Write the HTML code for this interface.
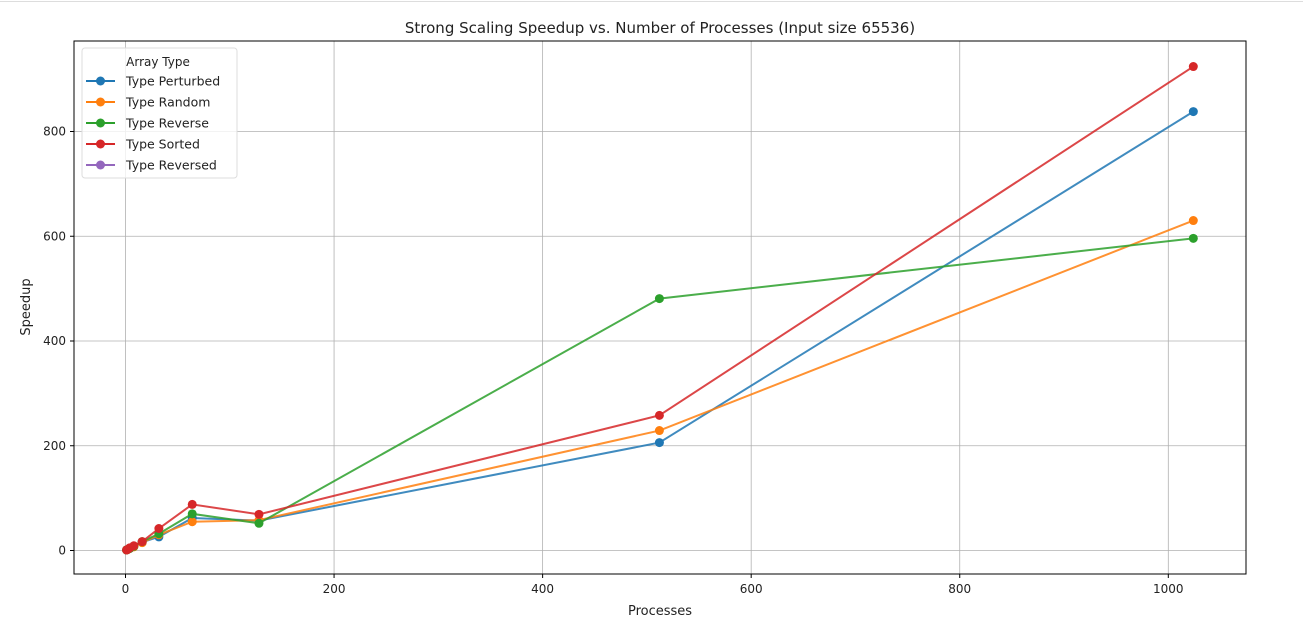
<!DOCTYPE html>
<html><head><meta charset="utf-8"><style>
body{margin:0;background:#fff;width:1303px;height:628px;overflow:hidden;font-family:"Liberation Sans","DejaVu Sans",sans-serif}
svg text{font-family:"DejaVu Sans","Liberation Sans",sans-serif;fill:#222}
</style></head><body>
<svg id="chart" width="1303" height="628" xmlns="http://www.w3.org/2000/svg">
<line x1="0" y1="1.5" x2="1303" y2="1.5" stroke="#ddd" stroke-width="1"/>
<g id="grid"></g><g id="series"></g><g id="axes"></g>
<text x="660" y="33" font-size="15" text-anchor="middle">Strong Scaling Speedup vs. Number of Processes (Input size 65536)</text>
<text x="660" y="615" font-size="13" text-anchor="middle">Processes</text>
<text x="30" y="307" font-size="13" text-anchor="middle" transform="rotate(-90 30 307)">Speedup</text>
<g id="legend"></g>
</svg>
<script>
const processes=[1,2,4,8,16,32,64,128,512,1024];
const seriesNames=["Type Perturbed","Type Random","Type Reverse","Type Sorted","Type Reversed"];
const colors=["#1f77b4","#ff7f0e","#2ca02c","#d62728","#9467bd"];
const perturbed=[1,2,4,8,16,26,62,57,206,838];
const random=[1,2,4,7,15,30,55,58,229,630];
const reverse=[1,2,4,8,17,32,70,52,481,596];
const sorted=[1,2,5,9,17,42,88,69,258,924];
const reversed=[];
const xTicks=[0,200,400,600,800,1000];
const yTicks=[0,200,400,600,800];
const allSeries=[perturbed,random,reverse,sorted,reversed];
const L=74,R=1246,T=41,B=574;
const X=v=>125.5+v*(1168.3-125.5)/1000;
const Y=v=>550.5-v*(550.5-131.5)/800;
const NS="http://www.w3.org/2000/svg";
function mk(p,tag,at){const e=document.createElementNS(NS,tag);for(const k in at)e.setAttribute(k,at[k]);p.appendChild(e);return e;}
const grid=document.getElementById('grid'),axes=document.getElementById('axes'),sg=document.getElementById('series'),lg=document.getElementById('legend');
xTicks.forEach(t=>{const x=X(t);
 const g=mk(grid,'line',{x1:x,y1:T,x2:x,y2:B,stroke:'#b0b0b0','stroke-width':0.8});
 
 
 mk(axes,'line',{x1:x,y1:B,x2:x,y2:B+4,stroke:'#000'});
 const tx=mk(axes,'text',{x:x,y:B+19,'font-size':12,'text-anchor':'middle'});tx.textContent=t;
 
 });
yTicks.forEach(t=>{const y=Y(t);
 const g=mk(grid,'line',{x1:L,y1:y,x2:R,y2:y,stroke:'#b0b0b0','stroke-width':0.8});
 
 
 mk(axes,'line',{x1:L-4,y1:y,x2:L,y2:y,stroke:'#000'});
 const tx=mk(axes,'text',{x:L-8,y:y+4,'font-size':12,'text-anchor':'end'});tx.textContent=t;
 
 });
const fr=mk(axes,'rect',{x:L,y:T,width:R-L,height:B-T,fill:'none',stroke:'#000','stroke-width':1});


allSeries.forEach((s,i)=>{if(!s.length)return;
 const pts=s.map((v,j)=>X(processes[j])+','+Y(v)).join(' ');
 const pl=mk(sg,'polyline',{points:pts,fill:'none',stroke:colors[i],'stroke-width':2,'stroke-opacity':0.85});
 
 
 s.forEach((v,j)=>{const c=mk(sg,'circle',{cx:X(processes[j]),cy:Y(v),r:4.5,fill:colors[i]});
  
  });});
const box=mk(lg,'rect',{x:82,y:48,width:155,height:130,rx:3,fill:'#fff','fill-opacity':0.8,stroke:'#ddd'});


const lt=mk(lg,'text',{x:158,y:66,'font-size':12,'text-anchor':'middle'});lt.textContent='Array Type';


seriesNames.forEach((n,i)=>{const y=81+i*21;
 const g=mk(lg,'g',{});
 
 
 mk(g,'line',{x1:86,y1:y,x2:115,y2:y,stroke:colors[i],'stroke-width':2});
 mk(g,'circle',{cx:100.5,cy:y,r:4.5,fill:colors[i]});
 const t=mk(g,'text',{x:126,y:y+4.5,'font-size':12.5});t.textContent=n;});
</script>
</body></html>
